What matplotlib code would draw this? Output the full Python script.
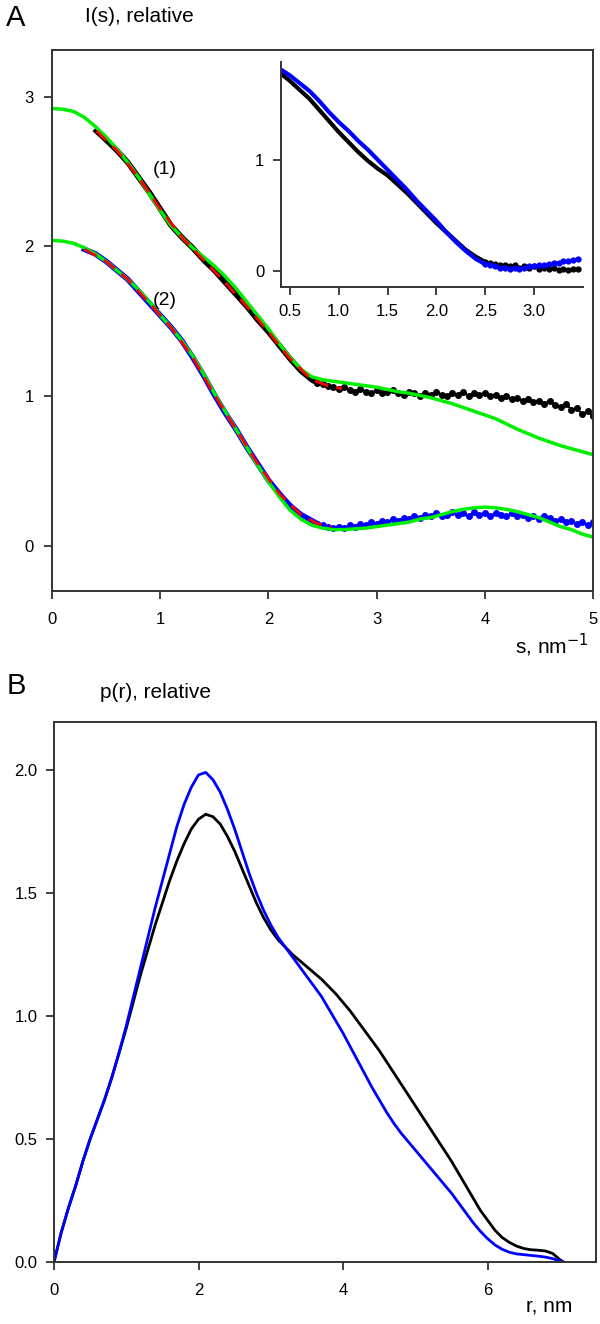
import matplotlib
matplotlib.use('Agg')
from matplotlib import pyplot as plt

plt.rcParams['font.family'] = ['Liberation Sans', 'DejaVu Sans']

# ---- panel A: scattering curves ----
# curve (1), black points (dense part, then noisy tail)
s1 = [0.41, 0.5, 0.6, 0.7, 0.8, 0.9, 1.0, 1.1, 1.2, 1.3, 1.4, 1.5, 1.6, 1.7, 1.8, 1.9, 2.0,
      2.1, 2.2, 2.3, 2.4, 2.45]
i1 = [2.77, 2.71, 2.64, 2.56, 2.46, 2.36, 2.25, 2.14, 2.06, 1.99, 1.91, 1.84, 1.76, 1.68, 1.60, 1.51, 1.43,
      1.34, 1.25, 1.17, 1.11, 1.09]
s1t = [2.45, 2.5, 2.55, 2.6, 2.65, 2.7, 2.75, 2.8, 2.85, 2.9, 2.95, 3.0, 3.05, 3.1, 3.15, 3.2, 3.25,
       3.3, 3.35, 3.4, 3.45, 3.5, 3.55, 3.6, 3.65, 3.7, 3.75, 3.8, 3.85, 3.9, 3.95, 4.0, 4.05,
       4.1, 4.15, 4.2, 4.25, 4.3, 4.35, 4.4, 4.45, 4.5, 4.55, 4.6, 4.65, 4.7, 4.75, 4.8, 4.85,
       4.9, 4.95, 5.0]
i1t = [1.09, 1.08, 1.07, 1.06, 1.05, 1.06, 1.04, 1.03, 1.05, 1.03, 1.02, 1.04, 1.02, 1.03, 1.04, 1.02, 1.01,
       1.03, 1.02, 1.00, 1.02, 1.01, 1.03, 1.01, 1.00, 1.02, 1.01, 1.03, 1.00, 1.02, 1.01, 1.02, 1.00,
       1.01, 0.99, 1.00, 0.98, 0.99, 0.97, 0.98, 0.96, 0.97, 0.95, 0.97, 0.94, 0.93, 0.95, 0.91, 0.92,
       0.88, 0.90, 0.87]

# curve (2), blue points
s2 = [0.30, 0.4, 0.5, 0.6, 0.7, 0.8, 0.9, 1.0, 1.1, 1.2, 1.3, 1.4, 1.5, 1.6, 1.7, 1.8, 1.9, 2.0,
      2.1, 2.2, 2.3, 2.4, 2.45]
i2 = [1.98, 1.95, 1.90, 1.84, 1.78, 1.70, 1.62, 1.54, 1.46, 1.37, 1.26, 1.14, 1.01, 0.89, 0.78, 0.66, 0.55, 0.44,
      0.35, 0.27, 0.21, 0.17, 0.15]
s2t = [2.45, 2.5, 2.55, 2.6, 2.65, 2.7, 2.75, 2.8, 2.85, 2.9, 2.95, 3.0, 3.05, 3.1, 3.15, 3.2, 3.25,
       3.3, 3.35, 3.4, 3.45, 3.5, 3.55, 3.6, 3.65, 3.7, 3.75, 3.8, 3.85, 3.9, 3.95, 4.0, 4.05,
       4.1, 4.15, 4.2, 4.25, 4.3, 4.35, 4.4, 4.45, 4.5, 4.55, 4.6, 4.65, 4.7, 4.75, 4.8, 4.85,
       4.9, 4.95, 5.0]
i2t = [0.15, 0.14, 0.13, 0.12, 0.13, 0.12, 0.14, 0.13, 0.15, 0.14, 0.16, 0.15, 0.17, 0.16, 0.18, 0.17, 0.19,
       0.18, 0.20, 0.19, 0.21, 0.20, 0.22, 0.20, 0.21, 0.23, 0.21, 0.22, 0.20, 0.23, 0.21, 0.22, 0.20,
       0.22, 0.21, 0.20, 0.22, 0.20, 0.21, 0.19, 0.20, 0.18, 0.20, 0.19, 0.17, 0.18, 0.16, 0.17, 0.15,
       0.16, 0.14, 0.16]

# green model curves
sg = [0.0, 0.1, 0.2, 0.3, 0.4, 0.5, 0.6, 0.7, 0.8, 0.9, 1.0, 1.1, 1.2, 1.3, 1.4, 1.5, 1.6,
      1.7, 1.8, 1.9, 2.0, 2.1, 2.2, 2.3, 2.4, 2.5, 2.6, 2.7, 2.8, 2.9, 3.0, 3.1, 3.2, 3.3,
      3.4, 3.5, 3.6, 3.7, 3.8, 3.9, 4.0, 4.1, 4.2, 4.3, 4.4, 4.5, 4.6, 4.7, 4.8, 4.9, 5.0]
g1 = [2.92, 2.915, 2.90, 2.86, 2.80, 2.73, 2.65, 2.56, 2.46, 2.35, 2.24, 2.14, 2.06, 1.99, 1.93, 1.87, 1.80,
      1.72, 1.63, 1.54, 1.45, 1.35, 1.26, 1.18, 1.13, 1.11, 1.10, 1.09, 1.08, 1.07, 1.06, 1.045, 1.03, 1.02,
      1.005, 0.99, 0.97, 0.95, 0.925, 0.90, 0.875, 0.85, 0.815, 0.78, 0.75, 0.72, 0.695, 0.67, 0.65, 0.63, 0.61]
g2 = [2.04, 2.035, 2.02, 1.99, 1.95, 1.90, 1.84, 1.78, 1.71, 1.63, 1.54, 1.46, 1.37, 1.27, 1.15, 1.02, 0.90,
      0.78, 0.66, 0.54, 0.43, 0.33, 0.24, 0.18, 0.14, 0.12, 0.11, 0.11, 0.115, 0.12, 0.13, 0.14, 0.15, 0.16,
      0.18, 0.19, 0.21, 0.23, 0.245, 0.255, 0.26, 0.255, 0.245, 0.23, 0.21, 0.19, 0.16, 0.13, 0.11, 0.08, 0.06]

# red dashed fits
sr1 = [0.41, 0.6, 0.8, 1.0, 1.2, 1.4, 1.6, 1.8, 2.0, 2.2, 2.4, 2.55, 2.68]
r1 = [2.77, 2.64, 2.46, 2.25, 2.06, 1.91, 1.76, 1.60, 1.43, 1.25, 1.11, 1.07, 1.05]
sr2 = [0.30, 0.5, 0.7, 0.9, 1.1, 1.3, 1.5, 1.7, 1.9, 2.1, 2.3, 2.45, 2.58]
r2 = [1.98, 1.90, 1.78, 1.62, 1.46, 1.26, 1.01, 0.78, 0.55, 0.35, 0.21, 0.15, 0.13]

# inset curves
si = [0.43, 0.5, 0.6, 0.7, 0.8, 0.9, 1.0, 1.1, 1.2, 1.3, 1.4, 1.5, 1.6, 1.7, 1.8, 1.9, 2.0,
      2.1, 2.2, 2.3, 2.4, 2.5]
ib = [1.76, 1.71, 1.63, 1.55, 1.45, 1.35, 1.25, 1.16, 1.07, 0.99, 0.92, 0.86, 0.78, 0.70, 0.61, 0.52, 0.43,
      0.35, 0.27, 0.19, 0.13, 0.08]
iu = [1.80, 1.76, 1.69, 1.62, 1.53, 1.43, 1.34, 1.26, 1.17, 1.09, 1.00, 0.91, 0.82, 0.73, 0.63, 0.54, 0.45,
      0.35, 0.26, 0.18, 0.11, 0.06]
sit = [2.5, 2.55, 2.6, 2.65, 2.7, 2.75, 2.8, 2.85, 2.9, 2.95, 3.0, 3.05, 3.1, 3.15, 3.2, 3.25,
       3.3, 3.35, 3.4, 3.45]
ibt = [0.08, 0.07, 0.06, 0.05, 0.05, 0.04, 0.05, 0.03, 0.04, 0.03, 0.04, 0.02, 0.03, 0.02, 0.03, 0.01,
       0.02, 0.01, 0.02, 0.02]
iut = [0.06, 0.05, 0.04, 0.03, 0.03, 0.02, 0.03, 0.02, 0.03, 0.04, 0.04, 0.05, 0.05, 0.06, 0.07, 0.07,
       0.09, 0.09, 0.10, 0.11]

# ---- panel B: distance distributions ----
r_p = [0.0, 0.1, 0.2, 0.3, 0.4, 0.5, 0.6, 0.7, 0.8, 0.9, 1.0, 1.1, 1.2, 1.3, 1.4, 1.5, 1.6,
       1.7, 1.8, 1.9, 2.0, 2.1, 2.2, 2.3, 2.4, 2.5, 2.6, 2.7, 2.8, 2.9, 3.0, 3.1, 3.2, 3.3,
       3.4, 3.5, 3.6, 3.7, 3.8, 3.9, 4.0, 4.1, 4.2, 4.3, 4.4, 4.5, 4.6, 4.7, 4.8, 4.9, 5.0,
       5.1, 5.2, 5.3, 5.4, 5.5, 5.6, 5.7, 5.8, 5.9, 6.0, 6.1, 6.2, 6.3, 6.4, 6.5, 6.6, 6.7,
       6.8, 6.9, 7.0, 7.05]
p_k = [0.0, 0.12, 0.22, 0.31, 0.41, 0.50, 0.58, 0.66, 0.75, 0.85, 0.95, 1.06, 1.17, 1.27, 1.37, 1.46, 1.55,
       1.63, 1.70, 1.76, 1.80, 1.82, 1.81, 1.78, 1.73, 1.67, 1.60, 1.53, 1.46, 1.40, 1.35, 1.31, 1.28, 1.25,
       1.225, 1.20, 1.175, 1.15, 1.12, 1.09, 1.055, 1.02, 0.98, 0.94, 0.90, 0.86, 0.815, 0.77, 0.725, 0.68, 0.635,
       0.59, 0.545, 0.50, 0.455, 0.41, 0.36, 0.31, 0.26, 0.21, 0.17, 0.13, 0.10, 0.08, 0.065, 0.055, 0.05, 0.048,
       0.045, 0.035, 0.01, 0.0]
p_b = [0.0, 0.12, 0.22, 0.31, 0.41, 0.50, 0.58, 0.66, 0.75, 0.85, 0.96, 1.08, 1.20, 1.32, 1.44, 1.55, 1.66,
       1.77, 1.86, 1.93, 1.98, 1.99, 1.96, 1.91, 1.84, 1.76, 1.67, 1.58, 1.50, 1.43, 1.37, 1.32, 1.28, 1.24,
       1.20, 1.16, 1.12, 1.08, 1.03, 0.98, 0.93, 0.875, 0.82, 0.765, 0.71, 0.66, 0.61, 0.565, 0.525, 0.49, 0.455,
       0.42, 0.385, 0.35, 0.315, 0.28, 0.24, 0.20, 0.16, 0.125, 0.095, 0.07, 0.052, 0.04, 0.033, 0.03, 0.027, 0.024,
       0.02, 0.014, 0.004, 0.0]

spine_c = '#333333'
green = '#00ee00'


def style_axes(ax, xpad, ypad):
    for sp in ax.spines.values():
        sp.set_color(spine_c)
        sp.set_linewidth(1.4)
    ax.tick_params(direction='out', length=6, width=1.3, color=spine_c, labelsize=12)
    ax.tick_params(axis='x', pad=xpad)
    ax.tick_params(axis='y', pad=ypad)


fig = plt.figure(figsize=(6, 13.24), dpi=100)

# panel A
ax1 = fig.add_axes([0.0867, 0.5536, 0.9016, 0.4086])
ax1.plot(s1, i1, color='black', lw=4, zorder=1)
ax1.plot(s1t, i1t, color='black', lw=1.5, marker='o', ms=4, zorder=1)
ax1.plot(s2, i2, color='#0000ff', lw=4, zorder=1)
ax1.plot(s2t, i2t, color='#0000ff', lw=1.5, marker='o', ms=4, zorder=1)
ax1.plot(sg, g1, color=green, lw=2.5, zorder=2)
ax1.plot(sg, g2, color=green, lw=2.5, zorder=2)
ax1.plot(sr1, r1, color='red', lw=2, dashes=(5, 3), zorder=4)
ax1.plot(sr2, r2, color='red', lw=2, dashes=(5, 3), zorder=4)
ax1.text(1.04, 2.51, '(1)', fontsize=14, ha='center', va='center')
ax1.text(1.04, 1.64, '(2)', fontsize=14, ha='center', va='center')
ax1.set_xlim(0, 5)
ax1.set_ylim(-0.3, 3.31)
ax1.set_xticks([0, 1, 2, 3, 4, 5])
ax1.set_yticks([0, 1, 2, 3])
style_axes(ax1, 9, 7)

# inset
axi = fig.add_axes([0.4683, 0.7832, 0.5034, 0.17])
axi.plot(si, ib, color='black', lw=3, zorder=1)
axi.plot(sit, ibt, color='black', lw=1.5, marker='o', ms=3.5, zorder=1)
axi.plot(si, iu, color='#0000ff', lw=3, zorder=2)
axi.plot(sit, iut, color='#0000ff', lw=1.5, marker='o', ms=3.5, zorder=2)
axi.set_xlim(0.41, 3.5)
axi.set_ylim(-0.145, 1.88)
axi.set_xticks([0.5, 1.0, 1.5, 2.0, 2.5, 3.0])
axi.set_xticklabels(['0.5', '1.0', '1.5', '2.0', '2.5', '3.0'])
axi.set_yticks([0, 1])
axi.spines['top'].set_visible(False)
axi.spines['right'].set_visible(False)
style_axes(axi, 6, 6)

# panel B
ax2 = fig.add_axes([0.09, 0.0468, 0.9033, 0.4079])
ax2.plot(r_p, p_k, color='black', lw=2)
ax2.plot(r_p, p_b, color='#0000ff', lw=2)
ax2.set_xlim(0, 7.5)
ax2.set_ylim(0, 2.195)
ax2.set_xticks([0, 2, 4, 6])
ax2.set_yticks([0.0, 0.5, 1.0, 1.5, 2.0])
ax2.set_yticklabels(['0.0', '0.5', '1.0', '1.5', '2.0'])
style_axes(ax2, 9, 6)

# labels
fig.text(16 / 600, 1 - 18 / 1324, 'A', fontsize=21, ha='center', va='center')
fig.text(85 / 600, 1 - 16 / 1324, 'I(s), relative', fontsize=15, ha='left', va='center')
fig.text(588 / 600, 1 - 645 / 1324, 's, nm$^{-1}$', fontsize=15, ha='right', va='center')
fig.text(16 / 600, 1 - 686 / 1324, 'B', fontsize=21, ha='center', va='center')
fig.text(100 / 600, 1 - 693 / 1324, 'p(r), relative', fontsize=15, ha='left', va='center')
fig.text(572 / 600, 1 - 1306 / 1324, 'r, nm', fontsize=15, ha='right', va='center')

fig.savefig('out.png', dpi=100)
